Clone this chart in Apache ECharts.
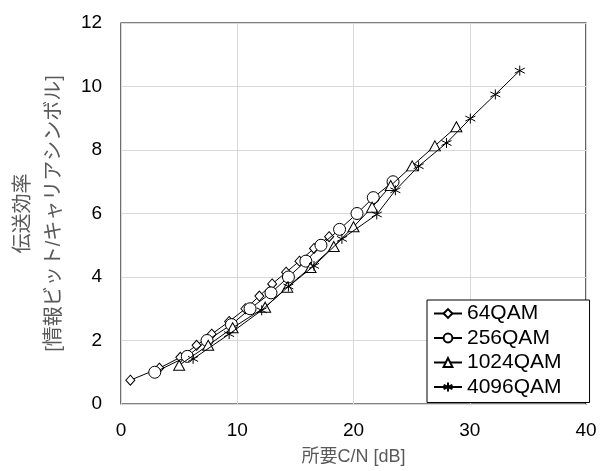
<!DOCTYPE html>
<html><head><meta charset="utf-8">
<script src="https://cdn.jsdelivr.net/npm/echarts@6/dist/echarts.min.js"></script>
<style>html,body{margin:0;padding:0;background:#fff}#c{width:602px;height:471px}</style>
</head><body><div id="c"></div>
<script>
const seriesNames = ['64QAM', '256QAM', '1024QAM', '4096QAM'];
const qam64 = [[0.8,0.75],[3.3,1.13],[5.1,1.47],[6.5,1.85],[7.8,2.2],[9.3,2.6],[10.7,3.0],[11.9,3.4],[13.0,3.78],[14.2,4.15],[15.35,4.5],[16.6,4.9],[17.9,5.27]];
const qam256 = [[2.9,1.0],[5.7,1.5],[7.4,2.0],[9.5,2.5],[11.1,3.0],[12.9,3.5],[14.4,4.0],[15.9,4.5],[17.2,5.0],[18.8,5.5],[20.3,6.0],[21.7,6.5],[23.4,7.0]];
const qam1024 = [[5.0,1.22],[7.5,1.85],[9.6,2.4],[12.4,3.05],[14.3,3.68],[16.3,4.3],[18.3,4.96],[20.0,5.58],[21.6,6.2],[23.2,6.88],[25.05,7.5],[27.0,8.13],[28.85,8.73]];
const qam4096 = [[6.2,1.42],[9.3,2.2],[12.1,2.95],[14.4,3.7],[16.6,4.35],[19.0,5.2],[22.0,5.97],[23.6,6.73],[25.6,7.49],[28.0,8.22],[30.05,8.99],[32.2,9.75],[34.3,10.5]];
const xTicks = [0, 10, 20, 30, 40];
const yTicks = [0, 2, 4, 6, 8, 10, 12];
const xTitle = '所要C/N [dB]';
const yTitle = '伝送効率\n[情報ビット/キャリアシンボル]';

const FONT = "'Liberation Sans', 'Noto Sans CJK JP', sans-serif";
const star = 'path://M0,-10L0,10M-8.66,-5L8.66,5M-8.66,5L8.66,-5';
const datasets = [qam64, qam256, qam1024, qam4096];
const symbols = ['diamond', 'circle', 'triangle', star];
const sizes = [[9, 10], 12, [11, 10], 10];

const chart = echarts.init(document.getElementById('c'), null, {renderer: 'canvas'});
chart.setOption({
  animation: false,
  backgroundColor: '#fff',
  grid: {left: 119, right: 16, top: 23, bottom: 64, show: true, borderColor: '#000', borderWidth: 1.2, backgroundColor: 'transparent'},
  xAxis: {
    type: 'value', min: xTicks[0], max: xTicks[xTicks.length - 1], interval: 10,
    name: xTitle, nameLocation: 'middle', nameGap: 44,
    nameTextStyle: {fontFamily: FONT, fontSize: 18, color: '#595959'},
    axisLine: {show: false}, axisTick: {show: false},
    axisLabel: {fontFamily: FONT, fontSize: 19, color: '#000', margin: 17},
    splitLine: {show: true, lineStyle: {color: '#d9d9d9', width: 1}}
  },
  yAxis: {
    type: 'value', min: yTicks[0], max: yTicks[yTicks.length - 1], interval: 2,
    name: yTitle, nameLocation: 'middle', nameGap: 42, nameRotate: 90,
    nameTextStyle: {fontFamily: FONT, fontSize: 20, color: '#595959', lineHeight: 31, align: 'center'},
    axisLine: {show: false}, axisTick: {show: false},
    axisLabel: {fontFamily: FONT, fontSize: 19, color: '#000', margin: 19},
    splitLine: {show: true, lineStyle: {color: '#d9d9d9', width: 1}}
  },
  legend: {
    orient: 'vertical', left: 427, top: 300,
    backgroundColor: '#fff', borderColor: '#000', borderWidth: 1,
    padding: [3, 28, 5, 6], itemGap: 3.5, itemWidth: 28, itemHeight: 11,
    textStyle: {fontFamily: FONT, fontSize: 21, color: '#000'},
    data: seriesNames
  },
  series: seriesNames.map((n, i) => ({
    name: n, type: 'line', data: datasets[i],
    symbol: symbols[i], symbolSize: sizes[i],
    showAllSymbol: true,
    lineStyle: {color: '#000', width: 1},
    itemStyle: {color: i === 3 ? '#000' : '#fff', borderColor: '#000', borderWidth: 1},
    z: 2 + i
  }))
});
</script></body></html>
